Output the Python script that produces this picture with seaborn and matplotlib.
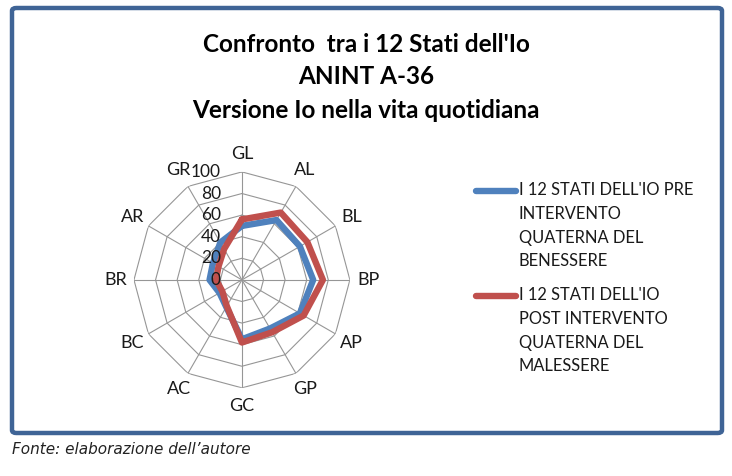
import numpy as np
import pandas as pd
import seaborn as sns
import matplotlib.pyplot as plt
from matplotlib.patches import FancyBboxPatch
from matplotlib.lines import Line2D
from matplotlib.transforms import offset_copy

sns.set_style("white")
plt.rcParams['font.family'] = ['Lato', 'DejaVu Sans']

categories = ["GL", "AL", "BL", "BP", "AP", "GP", "GC", "AC", "BC", "BR", "AR", "GR"]
pre = [50, 64, 62, 66, 62, 52, 55, 29, 24, 30, 31, 40]
post = [56, 72, 70, 75, 66, 56, 58, 28, 21, 24, 25, 33]
ring_levels = [0, 20, 40, 60, 80, 100]
series_names = ["I 12 STATI DELL'IO PRE\nINTERVENTO\nQUATERNA DEL\nBENESSERE",
                "I 12 STATI DELL'IO\nPOST INTERVENTO\nQUATERNA DEL\nMALESSERE"]
colors = ["#4F81BD", "#C0504D"]

n = len(categories)
angles = np.linspace(0, 2 * np.pi, n, endpoint=False)
closed = np.append(angles, 2 * np.pi)

rows = []
for name, vals in zip(series_names, [pre, post]):
    for a, v in zip(closed, vals + vals[:1]):
        rows.append({'angle': a, 'value': v, 'series': name})
df = pd.DataFrame(rows)

fig = plt.figure(figsize=(7.32, 4.76), dpi=100)

# frame
frame = FancyBboxPatch((12 / 732, 1 - 433 / 476), 710 / 732, 425 / 476,
                       boxstyle="round,pad=0,rounding_size=0.006",
                       transform=fig.transFigure, facecolor='none',
                       edgecolor='#3F6496', linewidth=3.2, zorder=5)
fig.patches.append(frame)

ax = fig.add_axes([0.183, 0.185, 0.295, 0.454], projection='polar')
ax.set_theta_zero_location('N')
ax.set_theta_direction(-1)
ax.set_ylim(0, 100)
ax.grid(False)
ax.set_xticks([])
ax.set_yticks([])
ax.spines['polar'].set_visible(False)
ax.patch.set_alpha(0)

# polygon grid
for lv in ring_levels[1:]:
    ax.plot(closed, [lv] * (n + 1), color='#969696', lw=0.8, zorder=1)
for a in angles:
    ax.plot([a, a], [0, 100], color='#969696', lw=0.8, zorder=1)

sns.lineplot(data=df, x='angle', y='value', hue='series', sort=False,
             estimator=None, palette=colors, linewidth=4.6, legend=False,
             ax=ax, zorder=3)
ax.set_xlabel('')
ax.set_ylabel('')
ax.set_xticks([])
ax.set_yticks([])
ax.set_ylim(0, 100)

for a, c in zip(angles, categories):
    ax.text(a, 117, c, ha='center', va='center', fontsize=13, color='#1a1a1a')

tr = offset_copy(ax.transData, fig=fig, x=-21, y=0, units='dots')
for lv in ring_levels:
    ax.text(0, lv, str(lv), transform=tr, ha='right', va='center',
            fontsize=12.5, color='#1a1a1a', zorder=4)

# titles
for txt, y in zip(["Confronto  tra i 12 Stati dell'Io", "ANINT A-36",
                   "Versione Io nella vita quotidiana"], [45, 77, 110]):
    fig.text(0.5, 1 - y / 476, txt, ha='center', va='center',
             fontsize=17.5, fontweight='bold', color='black')

# legend
for name, col, y in zip(series_names, colors, [191, 296]):
    fig.add_artist(Line2D([476 / 732, 516 / 732], [1 - y / 476] * 2,
                          color=col, lw=4.6, solid_capstyle='round',
                          transform=fig.transFigure))
    fig.text(519 / 732, 1 - (y - 9) / 476, name, ha='left', va='top',
             fontsize=11.9, color='#1a1a1a', linespacing=1.6)

fig.text(12 / 732, 1 - 450 / 476, "Fonte: elaborazione dell\u2019autore",
         ha='left', va='center', fontsize=11, style='italic',
         family='DejaVu Sans', color='#222222')

fig.savefig('out.png', dpi=100)
